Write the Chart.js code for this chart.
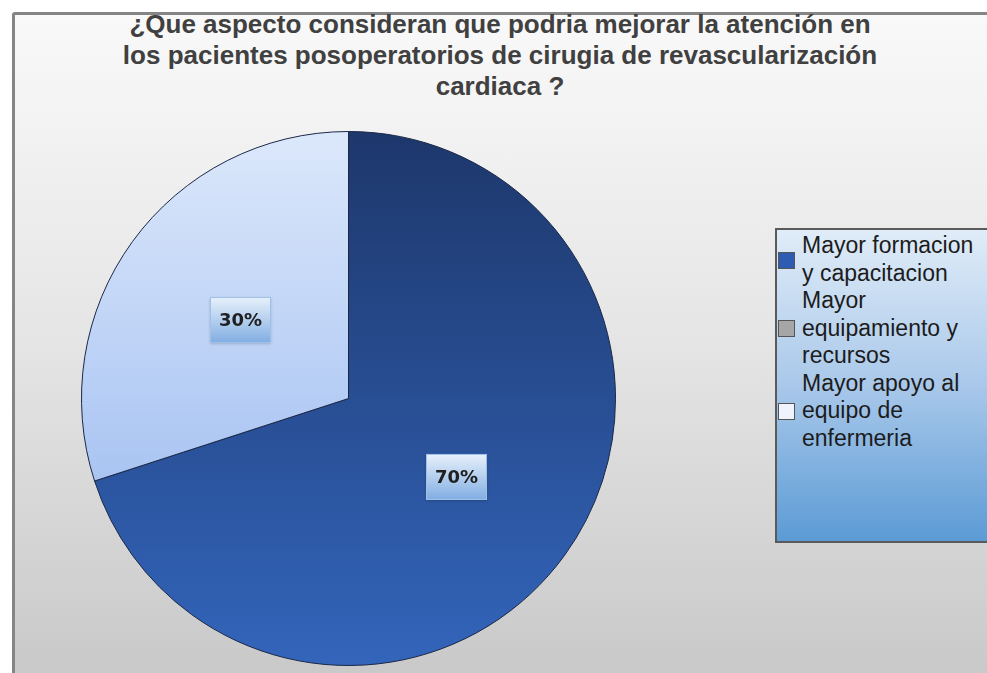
<!DOCTYPE html>
<html>
<head>
<meta charset="utf-8">
<script src="https://cdn.jsdelivr.net/npm/chart.js@4.4.1/dist/chart.umd.min.js"></script>
<style>
  html, body { margin: 0; padding: 0; background: #fff; }
  #wrap { position: relative; width: 987px; height: 673px; overflow: hidden; }
  #frame {
    position: absolute; left: 12px; top: 12px; width: 1000px; height: 700px;
    border: 3px solid #858585; border-radius: 3px; box-sizing: border-box;
    background: linear-gradient(to bottom, #f9f9f9 0%, #e6e6e6 45%, #c6c6c6 100%);
  }
  #title {
    position: absolute; left: 0; top: 9px; width: 1000px; text-align: center;
    font-family: "Liberation Sans", Arial, sans-serif; font-weight: bold;
    font-size: 26px; line-height: 31px; color: #404040;
  }
  #c { position: absolute; left: 0; top: 0; }
  #legend {
    position: absolute; left: 775px; top: 228px; width: 240px; height: 315px;
    border: 2px solid #5a5a5a; box-sizing: border-box;
    background: linear-gradient(to bottom, #e0ecf8 0%, #a9c8ea 50%, #5b9bd5 100%);
    font-family: "Liberation Sans", Arial, sans-serif; font-size: 23px;
    line-height: 27.5px; color: #1c1c1c; padding-top: 2px;
  }
  .item { position: relative; padding-left: 25px; width: 182px; }
  .box {
    position: absolute; left: 1px; top: 50%; width: 17px; height: 17px;
    margin-top: -8px; border: 1px solid #555; box-sizing: border-box;
  }
</style>
</head>
<body>
<div id="wrap">
  <div id="frame"></div>
  <div id="title"></div>
  <canvas id="c" width="987" height="673"></canvas>
  <div id="legend"></div>
</div>
<script>
const titleLines = [
  '¿Que aspecto consideran que podria mejorar la atención en',
  'los pacientes posoperatorios de cirugia de revascularización',
  'cardiaca ?'
];
const categories = [
  'Mayor formacion y capacitacion',
  'Mayor equipamiento y recursos',
  'Mayor apoyo al equipo de enfermeria'
];
const percentages = [70, 0, 30];
const legendColors = ['#2f5cb3', '#a6a6a6', '#eef3fd'];

document.getElementById('title').innerHTML = titleLines.join('<br>');

// legend built from the categories
const legend = document.getElementById('legend');
categories.forEach((name, i) => {
  const div = document.createElement('div');
  div.className = 'item';
  div.innerHTML = '<span class="box" style="background:' + legendColors[i] + '"></span>' + name;
  legend.appendChild(div);
});

function sliceFill(ctx) {
  const area = ctx.chart.chartArea;
  const i = ctx.dataIndex;
  if (!area) return legendColors[i];
  const g = ctx.chart.ctx.createLinearGradient(0, area.top, 0, area.bottom);
  if (i === 0) {
    g.addColorStop(0, '#1d376b');
    g.addColorStop(1, '#3365bb');
  } else if (i === 2) {
    g.addColorStop(0, '#dce8fb');
    g.addColorStop(1, '#8fb2ee');
  } else {
    g.addColorStop(0, '#bdbdbd');
    g.addColorStop(1, '#8f8f8f');
  }
  return g;
}

// percentage boxes at the middle of each slice
const labelBoxes = {
  id: 'labelBoxes',
  afterDatasetsDraw(chart) {
    const ctx = chart.ctx;
    const meta = chart.getDatasetMeta(0);
    meta.data.forEach((arc, i) => {
      if (percentages[i] <= 0) return;
      const p = arc.tooltipPosition();
      const w = 61, h = 46;
      const x = p.x - w / 2, y = p.y - h / 2;
      ctx.save();
      ctx.shadowColor = 'rgba(0,0,0,0.25)';
      ctx.shadowBlur = 3;
      ctx.shadowOffsetY = 1;
      const g = ctx.createLinearGradient(0, y, 0, y + h);
      g.addColorStop(0, '#e8f1fb');
      g.addColorStop(1, '#80ade2');
      ctx.fillStyle = g;
      ctx.fillRect(x, y, w, h);
      ctx.shadowColor = 'transparent';
      ctx.strokeStyle = '#9fc1e8';
      ctx.lineWidth = 1;
      ctx.strokeRect(x + 0.5, y + 0.5, w - 1, h - 1);
      ctx.fillStyle = '#202020';
      ctx.font = 'bold 18px "DejaVu Sans", sans-serif';
      ctx.textAlign = 'center';
      ctx.textBaseline = 'middle';
      ctx.fillText(percentages[i] + '%', p.x, p.y + 1);
      ctx.restore();
    });
  }
};

new Chart(document.getElementById('c'), {
  type: 'pie',
  data: {
    labels: categories,
    datasets: [{
      data: percentages,
      backgroundColor: sliceFill,
      borderColor: '#1a2747',
      borderWidth: 1
    }]
  },
  options: {
    responsive: false,
    animation: false,
    layout: { padding: { left: 81, right: 371, top: 131, bottom: 7 } },
    plugins: {
      legend: { display: false },
      title: { display: false },
      tooltip: { enabled: false }
    }
  },
  plugins: [labelBoxes]
});
</script>
</body>
</html>
